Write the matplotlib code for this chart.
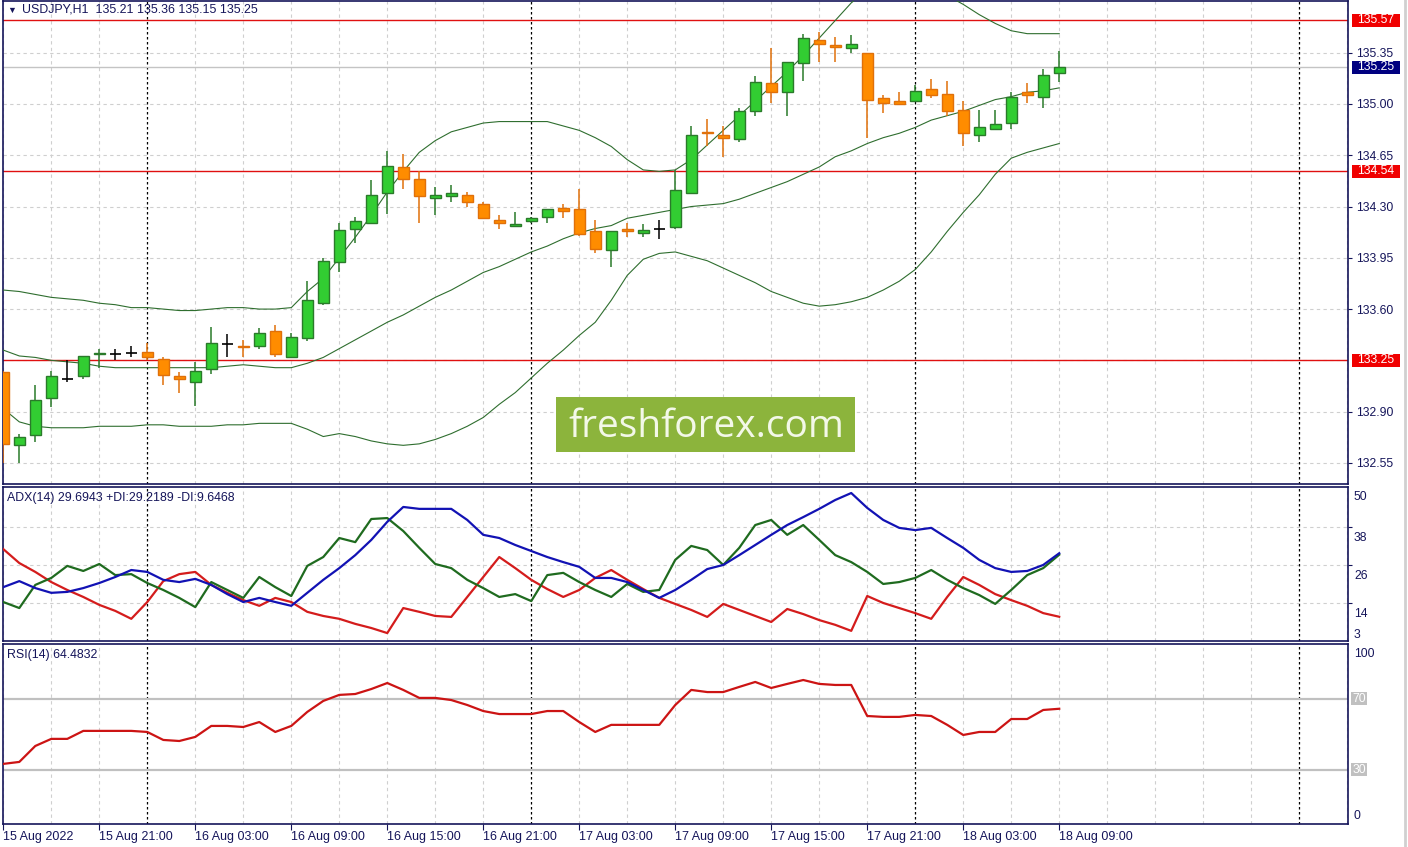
import matplotlib
matplotlib.use('Agg')
import matplotlib.pyplot as plt
import matplotlib.transforms as mtransforms
from matplotlib.patches import Rectangle

plt.rcParams['font.family'] = ['Liberation Sans', 'DejaVu Sans']

# ---- data: USDJPY H1, 15 Aug 15:00 -> 18 Aug 09:00 ----
opens = [133.17, 132.67, 132.74, 132.99, 133.12, 133.14, 133.29, 133.29, 133.30, 133.31,
         133.26, 133.14, 133.10, 133.19, 133.36, 133.35, 133.35, 133.45, 133.27, 133.40,
         133.64, 133.92, 134.15, 134.19, 134.39, 134.57, 134.49, 134.36, 134.37, 134.38,
         134.32, 134.21, 134.17, 134.20, 134.23, 134.29, 134.28, 134.13, 134.00, 134.15,
         134.12, 134.15, 134.16, 134.39, 134.81, 134.79, 134.76, 134.95, 135.14, 135.08,
         135.28, 135.44, 135.40, 135.38, 135.35, 135.04, 135.02, 135.02, 135.10, 135.07,
         134.96, 134.79, 134.83, 134.87, 135.08, 135.05, 135.21]
highs = [133.18, 132.75, 133.08, 133.18, 133.25, 133.28, 133.33, 133.33, 133.35, 133.37,
         133.27, 133.17, 133.24, 133.48, 133.43, 133.39, 133.47, 133.49, 133.44, 133.79,
         133.95, 134.19, 134.23, 134.48, 134.68, 134.66, 134.54, 134.43, 134.45, 134.40,
         134.33, 134.24, 134.26, 134.23, 134.28, 134.32, 134.42, 134.21, 134.13, 134.19,
         134.18, 134.21, 134.55, 134.85, 134.90, 134.85, 134.97, 135.19, 135.38, 135.29,
         135.48, 135.49, 135.46, 135.47, 135.35, 135.06, 135.08, 135.13, 135.17, 135.16,
         135.02, 134.96, 134.96, 135.08, 135.14, 135.24, 135.36]
lows = [132.55, 132.55, 132.69, 132.93, 133.10, 133.12, 133.20, 133.25, 133.27, 133.25,
        133.08, 133.03, 132.94, 133.16, 133.27, 133.27, 133.33, 133.27, 133.27, 133.38,
        133.63, 133.85, 134.05, 134.19, 134.25, 134.42, 134.19, 134.24, 134.33, 134.30,
        134.22, 134.15, 134.17, 134.19, 134.19, 134.22, 134.10, 133.98, 133.89, 134.09,
        134.09, 134.08, 134.15, 134.39, 134.71, 134.64, 134.74, 134.92, 135.01, 134.92,
        135.16, 135.29, 135.29, 135.35, 134.77, 134.94, 135.00, 135.02, 135.04, 134.92,
        134.71, 134.74, 134.83, 134.83, 135.01, 134.97, 135.15]
closes = [132.68, 132.73, 132.98, 133.14, 133.12, 133.28, 133.30, 133.29, 133.30, 133.27,
          133.15, 133.12, 133.18, 133.37, 133.36, 133.34, 133.44, 133.29, 133.41, 133.66,
          133.93, 134.14, 134.20, 134.38, 134.58, 134.49, 134.37, 134.38, 134.39, 134.33,
          134.22, 134.19, 134.18, 134.22, 134.28, 134.27, 134.11, 134.01, 134.13, 134.13,
          134.14, 134.15, 134.41, 134.79, 134.80, 134.77, 134.95, 135.15, 135.08, 135.29,
          135.45, 135.41, 135.39, 135.41, 135.03, 135.01, 135.00, 135.09, 135.06, 134.95,
          134.80, 134.84, 134.86, 135.05, 135.06, 135.20, 135.25]

bb_upper = [133.73, 133.72, 133.70, 133.68, 133.67, 133.66, 133.64, 133.63, 133.61, 133.61,
            133.60, 133.59, 133.59, 133.60, 133.61, 133.61, 133.60, 133.60, 133.61, 133.72,
            133.81, 133.95, 134.09, 134.24, 134.40, 134.54, 134.67, 134.75, 134.81, 134.84,
            134.87, 134.88, 134.88, 134.88, 134.88, 134.85, 134.82, 134.77, 134.71, 134.62,
            134.55, 134.54, 134.55, 134.62, 134.72, 134.82, 134.92, 135.02, 135.12, 135.22,
            135.33, 135.45, 135.57, 135.69, 135.78, 135.83, 135.85, 135.83, 135.79, 135.74,
            135.68, 135.61, 135.55, 135.50, 135.48, 135.48, 135.48]
bb_middle = [133.32, 133.28, 133.27, 133.25, 133.24, 133.23, 133.21, 133.20, 133.20, 133.20,
             133.20, 133.20, 133.20, 133.20, 133.21, 133.22, 133.21, 133.20, 133.20, 133.23,
             133.27, 133.33, 133.39, 133.45, 133.51, 133.56, 133.62, 133.68, 133.73, 133.79,
             133.85, 133.89, 133.94, 133.99, 134.03, 134.08, 134.12, 134.15, 134.17, 134.22,
             134.24, 134.26, 134.28, 134.30, 134.31, 134.32, 134.35, 134.39, 134.43, 134.47,
             134.52, 134.57, 134.64, 134.68, 134.73, 134.77, 134.80, 134.84, 134.89, 134.92,
             134.95, 134.99, 135.03, 135.05, 135.08, 135.09, 135.11]
bb_lower = [132.92, 132.83, 132.80, 132.79, 132.79, 132.79, 132.80, 132.80, 132.80, 132.81,
            132.81, 132.80, 132.80, 132.80, 132.81, 132.81, 132.82, 132.82, 132.82, 132.78,
            132.73, 132.75, 132.73, 132.70, 132.68, 132.67, 132.68, 132.71, 132.75, 132.80,
            132.86, 132.95, 133.03, 133.13, 133.23, 133.32, 133.42, 133.51, 133.66, 133.83,
            133.94, 133.98, 133.99, 133.96, 133.93, 133.88, 133.83, 133.78, 133.72, 133.68,
            133.64, 133.62, 133.63, 133.65, 133.68, 133.73, 133.79, 133.87, 133.99, 134.13,
            134.26, 134.38, 134.52, 134.63, 134.67, 134.70, 134.73]

adx = [19.0, 20.9, 18.7, 17.2, 17.5, 18.7, 20.3, 22.2, 24.4, 23.8,
       21.3, 20.6, 21.6, 19.7, 16.8, 14.3, 15.6, 14.3, 13.1, 17.2,
       21.3, 25.0, 29.1, 33.9, 39.6, 44.3, 43.7, 43.7, 43.7, 40.2,
       35.5, 34.5, 32.3, 30.4, 28.5, 26.9, 25.4, 21.9, 21.9, 20.6,
       18.1, 15.6, 18.1, 21.3, 24.7, 26.0, 29.1, 32.3, 35.5, 38.6,
       41.1, 43.7, 46.5, 48.7, 44.0, 40.2, 37.7, 37.0, 37.7, 34.5,
       31.4, 27.6, 25.0, 23.8, 24.1, 26.0, 29.69]
plus_di = [14.3, 12.4, 19.7, 21.9, 25.7, 24.1, 26.3, 22.8, 23.1, 20.3,
           18.1, 15.6, 12.7, 20.6, 18.1, 15.6, 22.2, 19.0, 16.2, 25.7,
           28.5, 34.5, 33.2, 40.5, 40.8, 36.7, 31.4, 26.3, 25.0, 21.3,
           18.7, 15.9, 16.8, 14.6, 22.8, 23.5, 20.6, 18.1, 15.9, 20.0,
           17.5, 18.1, 27.6, 32.0, 30.7, 26.0, 31.4, 38.6, 40.2, 35.5,
           38.6, 33.9, 29.1, 26.9, 23.8, 20.0, 20.6, 21.9, 24.4, 21.3,
           18.7, 16.5, 13.7, 18.1, 22.8, 25.0, 29.22]
minus_di = [31.0, 26.6, 23.8, 20.6, 18.1, 15.9, 13.4, 11.5, 9.0, 14.3,
            20.9, 23.1, 23.8, 19.7, 17.2, 14.9, 13.1, 15.6, 14.3, 11.2,
            9.9, 9.0, 7.4, 6.1, 4.5, 12.4, 11.2, 9.9, 9.6, 15.9,
            22.2, 28.5, 25.0, 21.3, 18.4, 15.9, 18.1, 21.9, 24.4, 21.3,
            18.4, 15.6, 13.7, 11.8, 9.6, 13.7, 11.8, 9.9, 8.0, 12.1,
            10.5, 8.6, 7.1, 5.2, 16.2, 14.0, 12.4, 10.8, 9.0, 15.9,
            22.2, 19.7, 16.8, 14.9, 13.1, 10.8, 9.65]

rsi = [33.4, 34.5, 43.5, 47.5, 47.5, 52.0, 52.0, 52.0, 52.0, 51.4,
       46.9, 46.3, 48.6, 54.8, 54.8, 54.2, 57.0, 51.4, 54.8, 62.7,
       68.9, 72.3, 72.8, 75.6, 79.0, 75.1, 70.6, 70.6, 69.4, 66.6,
       63.2, 61.5, 61.5, 61.5, 63.2, 63.2, 57.0, 51.4, 55.4, 55.4,
       55.4, 55.4, 66.6, 75.1, 73.9, 73.9, 76.8, 79.6, 76.2, 78.5,
       80.7, 78.5, 77.9, 77.9, 60.4, 59.9, 59.9, 61.0, 60.4, 55.4,
       49.7, 51.4, 51.4, 58.7, 58.7, 63.8, 64.48]

levels = [135.57, 134.54, 133.25]
bid = 135.25
price_ticks = [135.35, 135.00, 134.65, 134.30, 133.95, 133.60, 133.25, 132.90, 132.55]
time_labels = ['15 Aug 2022', '15 Aug 21:00', '16 Aug 03:00', '16 Aug 09:00', '16 Aug 15:00',
               '16 Aug 21:00', '17 Aug 03:00', '17 Aug 09:00', '17 Aug 15:00', '17 Aug 21:00',
               '18 Aug 03:00', '18 Aug 09:00']

W, H = 1408, 847
NAVY = '#15155a'
bars = list(range(len(closes)))
ID = mtransforms.IdentityTransform()

fig = plt.figure(figsize=(W / 100, H / 100), dpi=100)
fig.patch.set_facecolor('white')


def pane(top, bottom):
    ax = fig.add_axes([2.5 / W, 1 - bottom / H, 1345.5 / W, (bottom - top) / H])
    ax.set_xlim(-0.05, 84.05)
    for s in ax.spines.values():
        s.set_color(NAVY)
        s.set_linewidth(1.2)
    ax.tick_params(left=False, bottom=False, labelleft=False, labelbottom=False,
                   right=False, labelright=False)
    for b in range(0, 85, 3):
        if b in (9, 33, 57, 81):
            ax.axvline(b, color='black', lw=0.9, ls=(0, (2, 2)), zorder=1)
        else:
            ax.axvline(b, color='#cfcfcf', lw=0.8, ls=(0, (3, 3)), zorder=0)
    return ax


def box(ax, val, txt, fc, x0=1352, w=48, h=13, tc='white'):
    yd = ax.transData.transform((0, val))[1]
    fig.add_artist(Rectangle((x0, yd - h / 2), w, h, transform=ID, fc=fc, ec='none'))
    fig.text(x0 + w / 2, yd, txt, transform=ID, ha='center', va='center',
             color=tc, fontsize=8.7)


# ---- main price pane ----
ax = pane(1, 484)
ax.set_ylim(132.406, 135.703)
for p in price_ticks:
    ax.axhline(p, color='#cfcfcf', lw=0.8, ls=(0, (3, 3)), zorder=0)
ax.axhline(bid, color='#c4c4c4', lw=1.0, zorder=1)
for lv in levels:
    ax.axhline(lv, color='#e01010', lw=1.0, zorder=2)

ax.plot(bars, bb_upper, color='#2f6e2f', lw=0.8, zorder=3)
ax.plot(bars, bb_middle, color='#2f6e2f', lw=0.8, zorder=3)
ax.plot(bars, bb_lower, color='#2f6e2f', lw=0.8, zorder=3)

for i, (o, h, l, c) in enumerate(zip(opens, highs, lows, closes)):
    if c > o:
        fill, edge = '#32cd32', '#2a7a2a'
    elif c < o:
        fill, edge = '#ff8c00', '#e0700a'
    else:
        fill, edge = None, 'black'
    ax.vlines(i, l, h, color=edge, lw=1.1, zorder=4)
    if fill is None:
        ax.hlines(o, i - 0.33, i + 0.33, color='black', lw=1.2, zorder=5)
    else:
        ax.bar(i, abs(c - o), bottom=min(o, c), width=0.66, color=fill,
               edgecolor=edge, linewidth=1.0, zorder=5)

ax.yaxis.tick_right()
ax.set_yticks([p for p in price_ticks if p not in levels])
ax.tick_params(right=True, labelright=True, length=3, color=NAVY, labelcolor=NAVY,
               labelsize=8.7, pad=3)

for lv in levels:
    box(ax, lv, f'{lv:.2f}', '#f00000')
box(ax, bid, f'{bid:.2f}', '#000080')

# watermark
fig.add_artist(Rectangle((556, H - 452), 299, 55, transform=ID, fc='#8cb43c', ec='none', zorder=6))
fig.text(706, H - 427, 'freshforex.com', transform=ID, ha='center', va='center',
         color='#f3f8e8', fontsize=28, family='Open Sans', zorder=7)

fig.text(7 / W, 1 - 10 / H, '\u25bc', fontsize=6.5, color=NAVY, va='center')
fig.text(22 / W, 1 - 10 / H, 'USDJPY,H1  135.21 135.36 135.15 135.25', fontsize=8.9,
         color=NAVY, va='center')

# ---- ADX pane ----
ax2 = pane(487, 641)
ax2.set_ylim(2.0, 50.6)
for g in (14, 26, 38):
    ax2.axhline(g, color='#cfcfcf', lw=0.8, ls=(0, (3, 3)), zorder=0)
ax2.plot(bars, minus_di, color='#d41c1c', lw=1.6, zorder=3)
ax2.plot(bars, plus_di, color='#1f6b1f', lw=1.6, zorder=3)
ax2.plot(bars, adx, color='#1212b4', lw=1.6, zorder=4)
ax2.yaxis.tick_right()
ax2.set_yticks([14, 26, 38])
ax2.tick_params(right=True, length=3, color=NAVY)
for g in (38, 26, 14):
    yd = ax2.transData.transform((0, g))[1]
    fig.text(1354, yd - 5, str(g), transform=ID, va='top', ha='left', color=NAVY, fontsize=8.7)
fig.text(1354, H - 491, '50', transform=ID, va='top', ha='left', color=NAVY, fontsize=8.7)
fig.text(1354, H - 641, '3', transform=ID, va='bottom', ha='left', color=NAVY, fontsize=8.7)
fig.text(7 / W, 1 - 498 / H, 'ADX(14) 29.6943 +DI:29.2189 -DI:9.6468', fontsize=8.9,
         color=NAVY, va='center')

# ---- RSI pane ----
ax3 = pane(644, 824)
ax3.set_ylim(-0.5, 101)
for g in (70, 30):
    ax3.axhline(g, color='#c0c0c0', lw=1.6, zorder=1)
ax3.plot(bars, rsi, color='#cc1414', lw=1.6, zorder=3)
for g in (70, 30):
    box(ax3, g, str(g), '#c0c0c0', x0=1351, w=16)
fig.text(1354, H - 648, '100', transform=ID, va='top', ha='left', color=NAVY, fontsize=8.7)
fig.text(1354, H - 822, '0', transform=ID, va='bottom', ha='left', color=NAVY, fontsize=8.7)
fig.text(7 / W, 1 - 655 / H, 'RSI(14) 64.4832', fontsize=8.9, color=NAVY, va='center')

ax3.set_xticks(list(range(0, 67, 6)))
ax3.set_xticklabels(time_labels)
ax3.tick_params(bottom=True, labelbottom=True, length=4, color=NAVY, labelcolor=NAVY,
                labelsize=9, pad=1)
for lbl in ax3.get_xticklabels():
    lbl.set_ha('left')

# right gray edge
fig.add_artist(plt.Line2D([1405, 1405], [0, H], transform=ID, color='#d0d0d0', lw=2))

fig.savefig('out.png', dpi=100)
